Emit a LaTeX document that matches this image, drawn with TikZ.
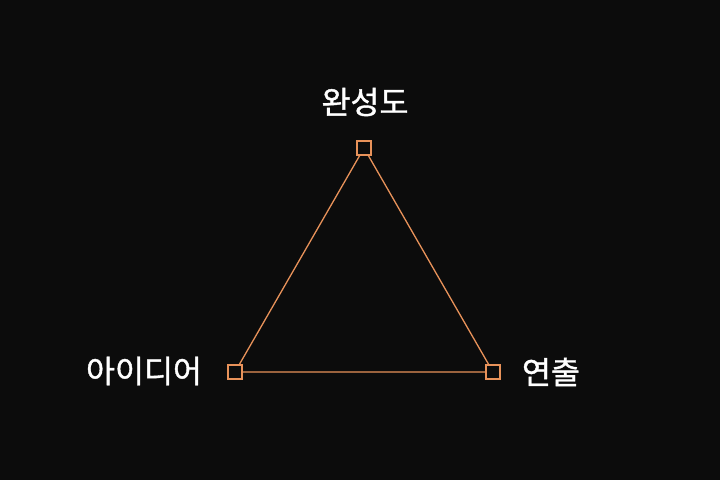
\documentclass[tikz,border=0pt]{standalone}
\usepackage{fontspec}
\newfontfamily\kr{Noto Sans CJK KR}[FakeBold=1.2]
\usetikzlibrary{positioning}
\definecolor{bgdark}{RGB}{12,12,12}
\definecolor{edgeorange}{RGB}{232,146,90}

\begin{document}
\begin{tikzpicture}[x=1pt,y=-1pt,
    corner/.style={draw=edgeorange,fill=bgdark,line width=1.2pt,
      minimum size=14pt,inner sep=0pt},
    label/.style={text=white,font=\kr\fontsize{31.5}{31.5}\selectfont,inner sep=0pt}]
    \fill[bgdark] (0,0) rectangle (720,480);
    \useasboundingbox (0,0) rectangle (720,480);
    \node[corner] (top)   at (364,148) {};
    \node[corner] (left)  at (235,372) {};
    \node[corner] (right) at (493,372) {};
      \draw[edgeorange,line width=1.3pt]
      (top) -- (left) -- (right) -- (top);
    \node[label] (quality) at (365,102) {완성도};
    \node[label] (idea)    at (144,371) {아이디어};
    \node[label] (stage)   at (551,372) {연출};
  \end{tikzpicture}
\end{document}
